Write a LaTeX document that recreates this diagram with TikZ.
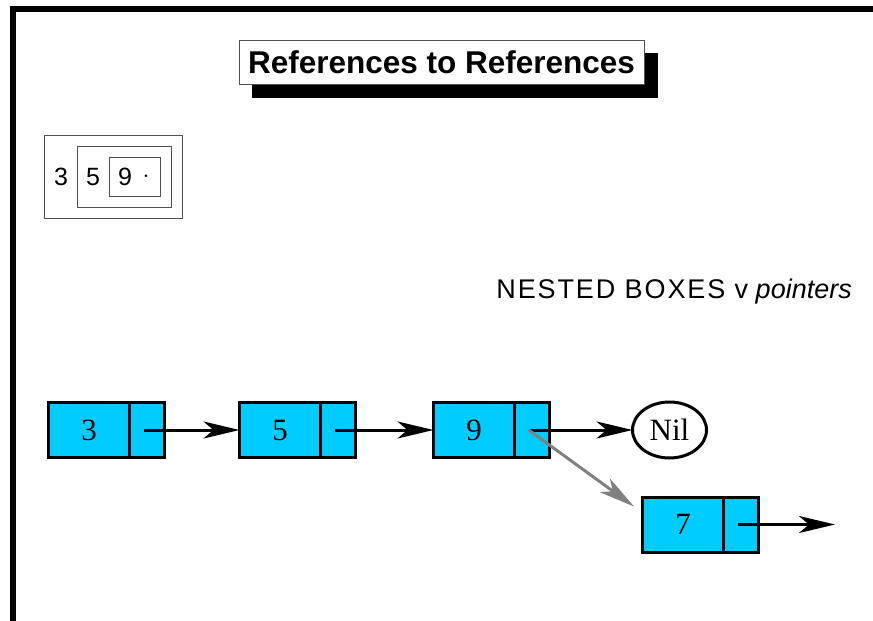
\documentclass[tikz,border=0pt]{standalone}
\usepackage{fontspec}
\setmainfont{Liberation Serif}
\setsansfont{Liberation Sans}
\usetikzlibrary{arrows.meta,shapes.geometric}
\definecolor{boxcyan}{HTML}{00CCFF}
\definecolor{thingray}{HTML}{505050}
\definecolor{arrgray}{HTML}{808080}
\tikzset{
  cellA/.style={draw=black, line width=3pt, fill=boxcyan, minimum width=81pt, minimum height=55pt, inner sep=0pt, outer sep=0pt, font=\fontsize{31}{31}\selectfont},
  cellB/.style={draw=black, line width=3pt, fill=boxcyan, minimum width=34.5pt, minimum height=55pt, inner sep=0pt, outer sep=0pt, anchor=west},
  ptr/.style={line width=3pt, -{Stealth[length=36pt, width=17pt, inset=10pt]}},
  nbox/.style={draw=thingray, line width=1pt, inner sep=0pt},
  ndig/.style={font=\sffamily\fontsize{25}{25}\selectfont, inner sep=0pt},
}
\begin{document}
\begin{tikzpicture}[x=1pt,y=-1pt]
\useasboundingbox (0,0) rectangle (873,621);
% frame
\draw[line width=6pt] (13,630) -- (13,9) -- (880,9);
% title
\fill (252,53) rectangle (658,98);
\node[draw=thingray, line width=1pt, fill=white, minimum width=405pt, minimum height=44pt, inner sep=0pt,
      font=\sffamily\bfseries\fontsize{31.5}{31.5}\selectfont] (title) at (441.5,62) {References to References};
% nested boxes
\node[nbox, minimum width=138pt, minimum height=83pt] (outer) at (113,176.5) {};
\node[nbox, minimum width=94pt, minimum height=61pt] (middle) at (124,176.5) {};
\node[nbox, minimum width=51pt, minimum height=39pt] (inner) at (134.5,176.5) {};
\node[ndig] (d3) at (61,177) {3};
\node[ndig] (d5) at (93,177) {5};
\node[ndig] (d9) at (125,177) {9};
\node[ndig] (ddot) at (146,177) {$\cdot$};
% caption
\node[font=\sffamily\fontsize{27}{27}\selectfont, anchor=base east, inner sep=0pt] (cap) at (852,298)
  {{\addfontfeature{LetterSpace=7}NESTED BOXES v} \textit{pointers}};
% list
\node[cellA] (a3) at (89,430) {3};
\node[cellB] (a3p) at (a3.east) {};
\node[cellA] (a5) at (280,430) {5};
\node[cellB] (a5p) at (a5.east) {};
\node[cellA] (a9) at (474,430) {9};
\node[cellB] (a9p) at (a9.east) {};
\node[draw, line width=3pt, ellipse, minimum width=74pt, minimum height=56pt, inner sep=0pt, outer sep=0pt,
      font=\fontsize{31}{31}\selectfont] (nil) at (669.5,430) {Nil};
\node[cellA] (a7) at (683,524.5) {7};
\node[cellB] (a7p) at (a7.east) {};
\coordinate (tipg) at ([xshift=-8.5pt,yshift=-9.5pt]a7.north west);
\coordinate (endr) at (835,524.5);
\draw[ptr] ([xshift=-3pt]a3p.center) -- (a5.west);
\draw[ptr] ([xshift=-3pt]a5p.center) -- (a9.west);
\draw[ptr] ([xshift=-3pt]a9p.center) -- (nil.west);
\draw[ptr] ([xshift=-3pt]a7p.center) -- (endr);
\draw[ptr, arrgray] ([xshift=-3pt]a9p.center) -- (tipg);
\end{tikzpicture}
\end{document}
